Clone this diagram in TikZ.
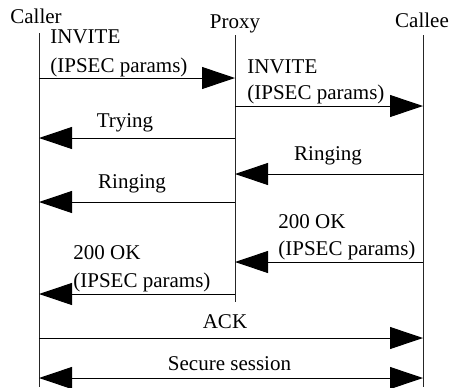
\documentclass[tikz,border=0pt]{standalone}
\usepackage{fontspec}
\setmainfont{Liberation Serif}
\usetikzlibrary{arrows.meta}
\tikzset{
  msg/.style={-{Triangle[length=16.5pt,width=11pt]}, line width=0.5pt},
  lifeline/.style={line width=0.5pt, black!85},
  lbl/.style={anchor=base west, inner sep=0pt},
  clbl/.style={anchor=base, inner sep=0pt}
}
\begin{document}
\begin{tikzpicture}[x=0.5pt, y=-0.5pt, font=\fontsize{10.5}{12.6}\selectfont]
      \useasboundingbox (0,0) rectangle (451,387);

      \node (caller) at (36,23) [clbl]{Caller};
      \node (proxy) at (235,28) [clbl]{Proxy};
      \node (callee) at (422,27) [clbl]{Callee};

      \coordinate (callerT) at (39,33);  \coordinate (callerB) at (39,387);
      \coordinate (proxyT) at (235,35);  \coordinate (proxyB) at (235,302);
      \coordinate (calleeT) at (423,35); \coordinate (calleeB) at (423,387);
      \draw[lifeline] (callerT)--(callerB);
      \draw[lifeline] (proxyT)--(proxyB);
      \draw[lifeline] (calleeT)--(calleeB);

      \foreach \n/\y in {1/78,2/106,3/138,4/174,5/202,6/262,7/294,8/338,9/378}
      {
          \coordinate (L\n) at (39,\y);
          \coordinate (M\n) at (235,\y);
          \coordinate (R\n) at (423,\y);
      }

      \draw[msg] (L1)--(M1);
      \draw[msg] (M2)--(R2);
      \draw[msg] (M3)--(L3);
      \draw[msg] (R4)--(M4);
      \draw[msg] (M5)--(L5);
      \draw[msg] (R6)--(M6);
      \draw[msg] (M7)--(L7);
      \draw[msg] (L8)--(R8);
      \draw[msg, {Triangle[length=16.5pt,width=11pt]}-{Triangle[length=16.5pt,width=11pt]}] (L9)--(R9);

      \node (inv1a) at (50,43) [lbl]{INVITE};
      \node (inv1b) at (50,72) [lbl]{(IPSEC params)};
      \node (inv2a) at (247,73) [lbl]{INVITE};
      \node (inv2b) at (247,99) [lbl]{(IPSEC params)};
      \node (trying) at (125,127) [clbl]{Trying};
      \node (ring1) at (328,160) [clbl]{Ringing};
      \node (ring2) at (132,188) [clbl]{Ringing};
      \node (ok1a) at (278,228) [lbl]{200 OK};
      \node (ok1b) at (278,255) [lbl]{(IPSEC params)};
      \node (ok2a) at (73,259) [lbl]{200 OK};
      \node (ok2b) at (73,287) [lbl]{(IPSEC params)};
      \node (ack) at (225,328) [clbl]{ACK};
      \node (secure) at (229.5,370) [clbl]{Secure session};

      \end{tikzpicture}
\end{document}
